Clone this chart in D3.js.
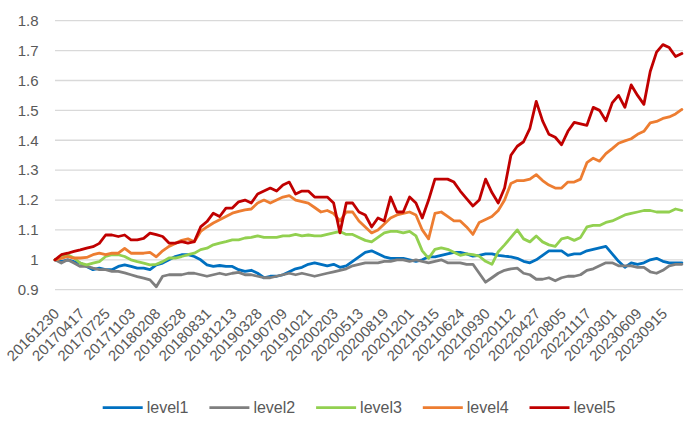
<!DOCTYPE html>
<html><head><meta charset="utf-8">
<script src="https://cdn.jsdelivr.net/npm/d3@7"></script>
<style>
body{margin:0;background:#fff}
svg{display:block}
text{font-family:"Liberation Sans",Arial,sans-serif;fill:#595959}
</style>
</head><body>
<svg id="c" width="699" height="432"></svg>
<script>
// ---- data ----
const tickLabels = ["20161230","20170417","20170725","20171103","20180208","20180528","20180831","20181213","20190328","20190709","20191021","20200203","20200513","20200819","20201201","20210315","20210624","20210930","20220112","20220427","20220805","20221117","20230301","20230609","20230915"];
const seriesNames = ["level1","level2","level3","level4","level5"];
const yTicks = [0.9,1.0,1.1,1.2,1.3,1.4,1.5,1.6,1.7,1.8];
const totalDays = 1687;   // trading days on the category axis
const sampleStep = 17;    // values below are read every 17 trading days
const labelEvery = 68;    // one date label every 68 trading days

const level1 = [1.0,0.994,1.0,0.994,0.989,0.978,0.967,0.972,0.967,0.967,0.978,0.983,0.978,0.972,0.972,0.967,
0.983,0.989,1.0,1.011,1.017,1.017,1.011,1.0,0.983,0.978,0.981,0.978,0.978,0.967,0.961,
0.965,0.955,0.94,0.945,0.945,0.95,0.96,0.97,0.975,0.985,0.99,0.985,0.98,0.985,0.975,0.98,0.995,1.01,1.025,1.03,1.02,1.01,1.005,1.005,1.005,1.0,0.995,1.0,1.01,1.01,1.015,1.02,1.025,
1.025,1.02,1.012,1.015,1.02,1.02,1.015,1.012,1.01,1.005,0.995,
0.99,1.0,1.015,1.03,1.03,1.03,1.015,1.02,1.02,1.03,1.035,1.04,1.045,1.02,0.995,0.975,0.99,0.985,0.99,1.0,1.005,0.995,0.99,0.99,0.99];
const level2 = [1.0,0.989,1.0,0.989,0.978,0.978,0.972,0.967,0.967,0.961,0.961,0.956,0.95,0.944,0.939,0.933,
0.91,0.945,0.95,0.95,0.95,0.955,0.955,0.95,0.945,0.95,0.955,0.95,0.955,0.958,0.95,
0.95,0.945,0.94,0.94,0.945,0.95,0.955,0.95,0.955,0.95,0.945,0.95,0.955,0.96,0.965,0.97,0.98,0.985,0.99,0.99,0.99,0.995,0.995,1.0,1.0,0.995,1.0,0.995,0.99,0.995,1.0,0.99,0.99,
0.99,0.985,0.985,0.955,0.925,0.94,0.955,0.965,0.97,0.972,0.955,
0.95,0.935,0.935,0.94,0.93,0.94,0.945,0.945,0.95,0.965,0.97,0.98,0.99,0.99,0.98,0.98,0.98,0.975,0.975,0.96,0.955,0.965,0.98,0.985,0.985];
const level3 = [1.0,1.011,1.017,1.006,0.989,0.983,0.989,0.994,1.011,1.017,1.017,1.011,1.0,0.994,0.989,0.983,
0.985,0.994,1.006,1.006,1.011,1.017,1.022,1.034,1.039,1.05,1.056,1.061,1.067,1.067,1.073,
1.075,1.08,1.075,1.075,1.075,1.08,1.08,1.085,1.08,1.083,1.08,1.08,1.085,1.09,1.095,1.085,1.085,1.075,1.065,1.06,1.075,1.09,1.095,1.095,1.09,1.095,1.08,1.03,1.005,1.035,1.04,1.035,1.025,
1.015,1.02,1.017,1.012,0.995,0.985,1.027,1.05,1.075,1.10,1.07,
1.06,1.08,1.06,1.05,1.045,1.07,1.075,1.065,1.075,1.11,1.115,1.115,1.125,1.13,1.14,1.15,1.155,1.16,1.165,1.165,1.16,1.16,1.16,1.17,1.165];
const level4 = [1.0,1.005,1.011,1.006,1.006,1.008,1.017,1.022,1.017,1.022,1.022,1.038,1.022,1.022,1.022,1.025,
1.01,1.03,1.045,1.055,1.065,1.07,1.06,1.095,1.11,1.123,1.134,1.145,1.156,1.162,1.167,
1.17,1.19,1.20,1.19,1.20,1.21,1.215,1.20,1.195,1.19,1.175,1.16,1.165,1.155,1.13,1.16,1.16,1.13,1.11,1.09,1.10,1.12,1.14,1.15,1.155,1.16,1.15,1.10,1.07,
1.155,1.16,1.145,1.13,1.13,1.11,1.085,1.125,1.135,1.145,1.165,1.20,1.255,1.265,1.265,1.27,1.285,1.265,1.25,1.24,1.24,
1.26,1.26,1.27,1.325,1.34,1.33,1.355,1.372,1.39,1.398,1.405,1.42,1.43,1.458,1.463,1.473,1.478,1.488,1.503];
const level5 = [1.00,1.017,1.022,1.028,1.033,1.039,1.044,1.055,1.083,1.083,1.078,1.083,1.067,1.067,1.072,1.089,
1.084,1.078,1.056,1.056,1.061,1.056,1.061,1.11,1.128,1.156,1.145,1.173,1.173,1.194,1.20,
1.19,1.22,1.23,1.24,1.23,1.25,1.26,1.22,1.23,1.23,1.21,1.21,1.21,1.19,1.09,1.19,1.19,1.16,1.15,1.11,1.14,1.13,1.21,1.16,1.16,1.21,1.19,1.14,1.20,
1.27,1.27,1.27,1.26,1.23,1.205,1.18,1.20,1.27,1.225,1.19,1.24,1.35,1.38,1.395,1.44,1.53,1.465,1.42,1.41,1.385,
1.43,1.46,1.455,1.45,1.51,1.50,1.465,1.525,1.55,1.51,1.585,1.55,1.52,1.63,1.695,1.72,1.71,1.68,1.69];

const seriesValues = [level1, level2, level3, level4, level5];
const colors = ["#0070C0","#7F7F7F","#92D050","#ED7D31","#C00000"];

// ---- chart ----
const svg = d3.select("#c");
const x = d3.scaleLinear().domain([0, totalDays - 1]).range([55, 683]);
const y = d3.scaleLinear().domain([0.9, 1.8]).range([289.7, 20.7]);

// gridlines
svg.append("g").selectAll("line").data(yTicks).join("line")
  .attr("x1", x.range()[0]).attr("x2", x.range()[1])
  .attr("y1", d => y(d)).attr("y2", d => y(d))
  .attr("stroke", "#d9d9d9").attr("stroke-width", 1.3);

// y labels
svg.append("g").selectAll("text").data(yTicks).join("text")
  .attr("x", 38.5).attr("y", d => y(d)).attr("dy", "0.35em")
  .attr("text-anchor", "end").style("font-size", "15px")
  .text(d => String(+d.toFixed(1)));

// x labels
svg.append("g").selectAll("text").data(tickLabels).join("text")
  .attr("transform", (d, i) => `translate(${x(i * labelEvery) + 1.5},311) rotate(-45)`)
  .attr("dy", "0.35em").attr("text-anchor", "end").style("font-size", "15px")
  .text(d => d);

// lines
const line = d3.line().x((d, i) => x(i * sampleStep)).y(d => y(d));
svg.append("g").selectAll("path").data(seriesValues).join("path")
  .attr("d", d => line(d)).attr("fill", "none")
  .attr("stroke", (d, i) => colors[i]).attr("stroke-width", 2.8)
  .attr("stroke-linejoin", "round").attr("stroke-linecap", "round");

// legend
const lg = svg.append("g").selectAll("g").data(seriesNames).join("g")
  .attr("transform", (d, i) => `translate(${102.7 + i * 106.7},407.7)`);
lg.append("line").attr("x1", 0).attr("x2", 40).attr("y1", 0).attr("y2", 0)
  .attr("stroke", (d, i) => colors[i]).attr("stroke-width", 2.8);
lg.append("text").attr("x", 44).attr("dy", "0.35em").style("font-size", "16px").text(d => d);
</script>
</body></html>
